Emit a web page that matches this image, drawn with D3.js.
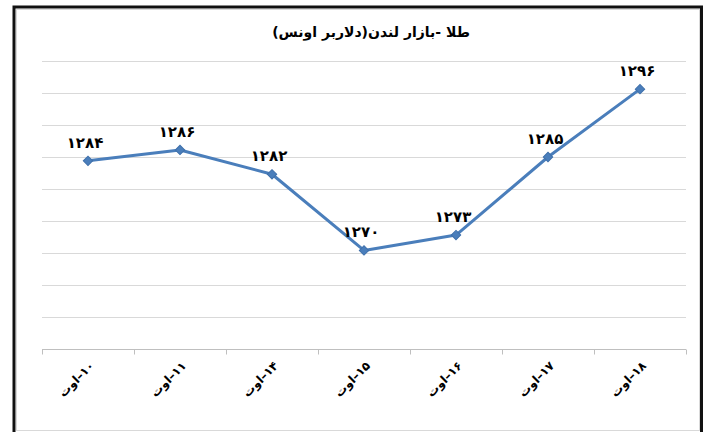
<!DOCTYPE html>
<meta charset="utf-8">
<style>
body { margin: 0; background: white; }
svg { display: block; }
.grid line { stroke: #d9d9d9; stroke-width: 1px; }
text { font-family: "DejaVu Sans", sans-serif; font-weight: bold; fill: #000; }
</style>
<svg width="706" height="432"></svg>
<script src="https://cdn.jsdelivr.net/npm/d3@7"></script>
<script>
// chart data
var title = "طلا -بازار لندن(دلاربر اونس)";
var dates = ["۱۰–اوت", "۱۱–اوت", "۱۴–اوت", "۱۵–اوت", "۱۶–اوت", "۱۷–اوت", "۱۸–اوت"];
var prices = [1284.4, 1286.1, 1282.3, 1270.4, 1272.8, 1285.0, 1295.6];
var yRange = [1255, 1300];

var svg = d3.select("svg");

// persian digits for the data labels
var faDigits = "۰۱۲۳۴۵۶۷۸۹";
function toFa(n) {
  return String(Math.round(n)).replace(/[0-9]/g, function(c) { return faDigits[+c]; });
}

// frame: black outer line, thin grey chart-area border inside
svg.append("rect")
  .attr("x", 14).attr("y", 7)
  .attr("width", 687.5).attr("height", 440)
  .attr("fill", "none").attr("stroke", "#111").attr("stroke-width", 3);
svg.append("rect")
  .attr("x", 16.5).attr("y", 9.5)
  .attr("width", 683).attr("height", 421)
  .attr("fill", "white").attr("stroke", "#d9d9d9").attr("stroke-width", 1);

var x = d3.scaleBand().domain(dates).range([42, 686]);
var y = d3.scaleLinear().domain(yRange).range([349, 61]);

// horizontal gridlines
svg.append("g").attr("class", "grid")
  .selectAll("line")
  .data(y.ticks(10).filter(function(d) { return d > yRange[0]; }))
  .enter().append("line")
  .attr("x1", x.range()[0]).attr("x2", x.range()[1])
  .attr("y1", function(d) { return Math.round(y(d)) + 0.5; })
  .attr("y2", function(d) { return Math.round(y(d)) + 0.5; });

// category axis with ticks between the categories
var axis = svg.append("g").attr("transform", "translate(0," + (y(yRange[0]) + 0.5) + ")");
axis.append("line")
  .attr("x1", x.range()[0]).attr("x2", x.range()[1])
  .attr("stroke", "#bfbfbf");
axis.selectAll(".tick")
  .data(dates.concat([null]))
  .enter().append("line")
  .attr("x1", function(d, i) { return Math.round(x.range()[0] + i * x.step()) + 0.5; })
  .attr("x2", function(d, i) { return Math.round(x.range()[0] + i * x.step()) + 0.5; })
  .attr("y1", 0).attr("y2", 5)
  .attr("stroke", "#bfbfbf");
// rtl labels: "start" is the right-hand end, which sits at the tick
axis.selectAll(".lbl")
  .data(dates)
  .enter().append("text")
  .attr("transform", function(d) {
    return "translate(" + (x(d) + x.bandwidth() / 2 + 4) + ",14) rotate(-45)";
  })
  .attr("direction", "rtl")
  .style("unicode-bidi", "embed")
  .attr("text-anchor", "start")
  .attr("dy", "0.35em")
  .style("font-size", "12px")
  .text(function(d) { return d; });

// the price line
var line = d3.line()
  .x(function(d, i) { return x(dates[i]) + x.bandwidth() / 2; })
  .y(function(d) { return y(d); });

svg.append("path")
  .datum(prices)
  .attr("d", line)
  .attr("fill", "none")
  .attr("stroke", "#4a7ebb")
  .attr("stroke-width", 3)
  .attr("stroke-linejoin", "round");

var diamond = d3.symbol().type(d3.symbolSquare).size(44);
svg.append("g")
  .selectAll("path")
  .data(prices)
  .enter().append("path")
  .attr("d", diamond)
  .attr("transform", function(d, i) {
    return "translate(" + (x(dates[i]) + x.bandwidth() / 2) + "," + y(d) + ") rotate(45)";
  })
  .attr("fill", "#4a7ebb")
  .attr("stroke", "#3f70ab")
  .attr("stroke-width", 1);

// data labels above the points
svg.append("g")
  .selectAll("text")
  .data(prices)
  .enter().append("text")
  .attr("x", function(d, i) { return x(dates[i]) + x.bandwidth() / 2 - 3; })
  .attr("y", function(d) { return y(d) - 13; })
  .attr("text-anchor", "middle")
  .style("font-size", "15px")
  .text(function(d) { return toFa(d); });

// title
svg.append("text")
  .attr("x", 371).attr("y", 37)
  .attr("text-anchor", "middle")
  .attr("direction", "rtl")
  .style("unicode-bidi", "embed")
  .style("font-size", "14px")
  .text(title);
</script>
